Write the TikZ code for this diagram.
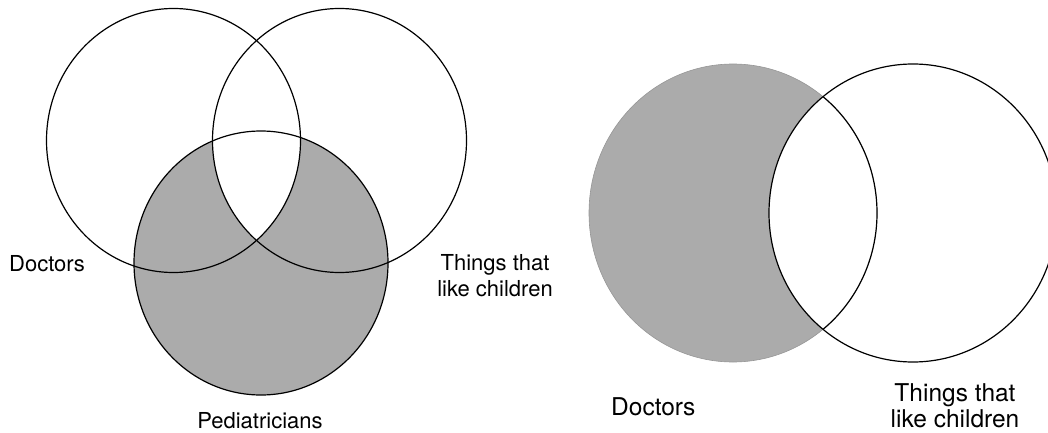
\documentclass[tikz,border=0pt]{standalone}
\usepackage{fontspec}
\setmainfont{TeX Gyre Heros}
\definecolor{venngray}{RGB}{171,171,171}
\definecolor{venngrayedge}{RGB}{150,150,150}
\begin{document}
\begin{tikzpicture}[x=1pt,y=-1pt,
  outline/.style={line width=1.2pt,black},
  lblS/.style={font=\fontsize{22}{26.5}\selectfont, align=center, inner sep=0pt},
  lblL/.style={font=\fontsize{24.5}{26}\selectfont, align=center, inner sep=0pt},
  ell/.style={x radius=127pt, y radius=132pt},
  ellR/.style={x radius=144pt, y radius=149pt}]
\useasboundingbox (0,0) rectangle (1048,433);
% ---------- left diagram ----------
\fill[venngray] (261,263) ellipse [ell];
\begin{scope}
  \clip (173.5,140.5) ellipse [ell];
  \clip (339.5,140.5) ellipse [ell];
  \fill[white] (261,263) ellipse [ell];
\end{scope}
\draw[outline] (173.5,140.5) ellipse [ell];
\draw[outline] (339.5,140.5) ellipse [ell];
\draw[outline] (261,263) ellipse [ell];
\node[lblS, anchor=base west] (docL) at (9,271) {Doctors};
\node[lblS, anchor=base] (thingsL) at (495,296.7) {Things that\\like children};
\node[lblS, anchor=base] (pedL) at (260,428) {Pediatricians};
% ---------- right diagram ----------
\fill[venngray] (733,213) ellipse [ellR];
\draw[venngrayedge, line width=0.6pt] (733,213) ellipse [ellR];
\begin{scope}
  \clip (913,213) ellipse [ellR];
  \fill[white] (733,213) ellipse [ellR];
  \draw[outline] (733,213) ellipse [ellR];
\end{scope}
\draw[outline] (913,213) ellipse [ellR];
\node[lblL, anchor=base west] (docR) at (611,415) {Doctors};
\node[lblL, anchor=base] (thingsR) at (955,427) {Things that\\like children};
\end{tikzpicture}
\end{document}
